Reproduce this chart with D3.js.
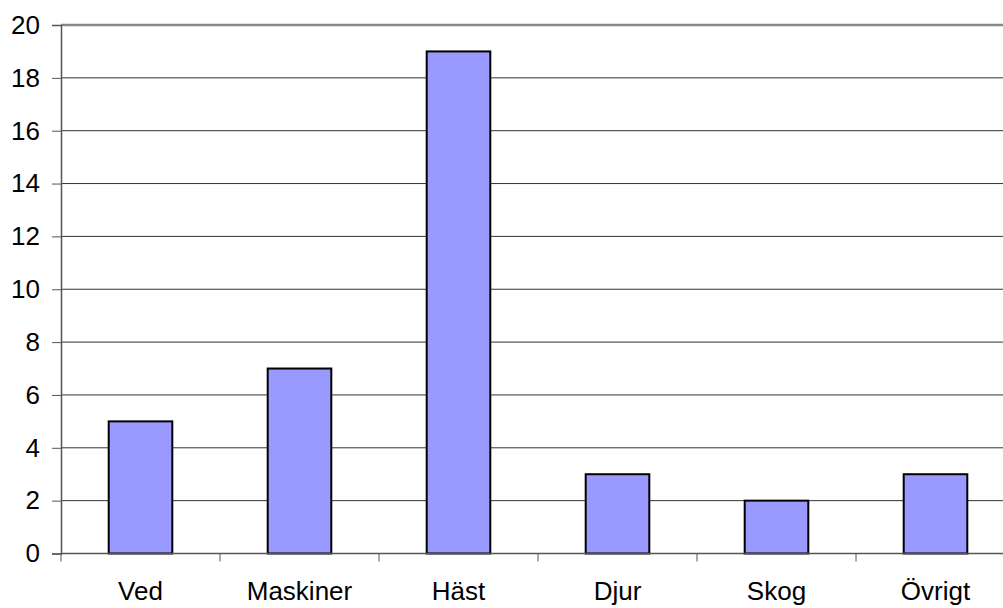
<!DOCTYPE html>
<html><head><meta charset="utf-8">
<script src="https://cdn.jsdelivr.net/npm/d3@7"></script>
<style>body{margin:0;background:#fff}svg{display:block}text{font-family:"Liberation Sans",Arial,sans-serif}</style>
</head><body><svg id="c" width="1003" height="608"></svg>
<script>
const categories = ["Ved","Maskiner","Häst","Djur","Skog","Övrigt"];
const values = [5,7,19,3,2,3];
const yTicks = [0,2,4,6,8,10,12,14,16,18,20];

const svg = d3.select("#c");
const L = 61, R = 1015, T = 25, B = 553.5;
const x = d3.scaleBand().domain(categories).range([L,R]).paddingInner(0.6).paddingOuter(0.3);
const xb = d3.scaleBand().domain(categories).range([L,R]);
const y = d3.scaleLinear().domain([0,20]).range([B,T]);

// gridlines
svg.append("g").selectAll("line").data(yTicks.filter(d=>d>0&&d<20)).join("line")
  .attr("x1",L).attr("x2",R).attr("y1",d=>y(d)).attr("y2",d=>y(d))
  .attr("stroke","#333").attr("stroke-width",1);
// top border
svg.append("line").attr("x1",L).attr("x2",R).attr("y1",y(20)).attr("y2",y(20))
  .attr("stroke","#888").attr("stroke-width",2.5);

// bars
svg.append("g").selectAll("rect").data(values).join("rect")
  .attr("x",(d,i)=>x(categories[i])).attr("width",x.bandwidth())
  .attr("y",d=>y(d)).attr("height",d=>y(0)-y(d))
  .attr("fill","#9999ff").attr("stroke","#000").attr("stroke-width",2);

// y axis
const yAxis = d3.axisLeft(y).tickValues(yTicks).tickSize(9).tickPadding(12);
const gy = svg.append("g").attr("transform",`translate(${L},0)`).call(yAxis);
gy.select(".domain").attr("stroke","#555").attr("stroke-width",1.5);
gy.selectAll(".tick line").attr("stroke","#555");
gy.selectAll("text").attr("font-size",26).attr("fill","#000").attr("font-family","'Liberation Sans',Arial,sans-serif");

// x axis line
svg.append("line").attr("x1",L).attr("x2",R).attr("y1",B).attr("y2",B).attr("stroke","#555").attr("stroke-width",1.5);
// x ticks at band boundaries
const bounds = categories.map(c=>xb(c)).concat([R]);
svg.append("g").selectAll("line").data(bounds).join("line")
  .attr("x1",d=>d).attr("x2",d=>d).attr("y1",B).attr("y2",B+8)
  .attr("stroke","#555").attr("stroke-width",1);
// x labels
svg.append("g").selectAll("text").data(categories).join("text")
  .attr("x",d=>xb(d)+xb.bandwidth()/2).attr("y",600)
  .attr("text-anchor","middle").attr("font-size",26).attr("fill","#000").text(d=>d);
</script></body></html>
